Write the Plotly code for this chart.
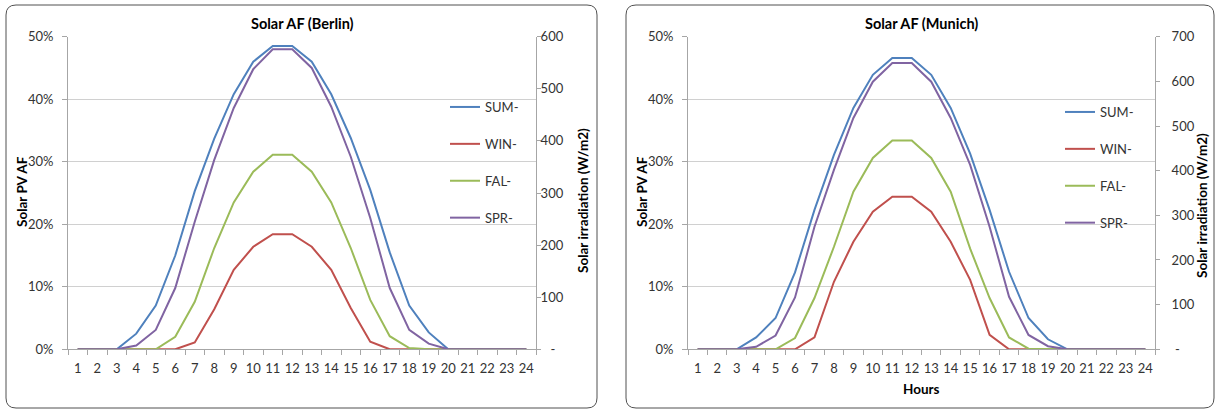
import plotly.graph_objects as go

W, H = 1216, 410

hours = [str(h) for h in range(1, 25)]
series_names = ["SUM-", "WIN-", "FAL-", "SPR-"]
colors = ["#4F81BD", "#C0504D", "#9BBB59", "#8064A2"]

# Berlin (Solar PV AF, %)
sum_berlin = [0, 0, 0, 2.5, 7, 15, 25.3, 33.7, 40.8, 46, 48.5, 48.5, 46, 40.8, 33.8, 25.5, 15.5, 7, 2.7, 0, 0, 0, 0, 0]
win_berlin = [0, 0, 0, 0, 0, 0, 1.1, 6.4, 12.7, 16.4, 18.4, 18.4, 16.4, 12.7, 6.6, 1.2, 0, 0, 0, 0, 0, 0, 0, 0]
fal_berlin = [0, 0, 0, 0, 0, 2, 7.6, 16.2, 23.5, 28.4, 31.1, 31.1, 28.4, 23.5, 16.2, 7.9, 2.1, 0.2, 0, 0, 0, 0, 0, 0]
spr_berlin = [0, 0, 0, 0.6, 3.1, 9.8, 20.4, 30.3, 38.6, 44.8, 48, 48, 45, 38.8, 30.8, 21, 9.8, 3.1, 0.9, 0, 0, 0, 0, 0]

# Munich (Solar PV AF, %)
sum_munich = [0, 0, 0, 1.9, 5, 12.3, 22.3, 31.1, 38.6, 43.9, 46.6, 46.6, 43.9, 38.6, 31.3, 22.3, 12.4, 5, 1.6, 0, 0, 0, 0, 0]
win_munich = [0, 0, 0, 0, 0, 0, 1.9, 10.8, 17.2, 22, 24.4, 24.4, 22, 17.2, 11.1, 2.3, 0, 0, 0, 0, 0, 0, 0, 0]
fal_munich = [0, 0, 0, 0, 0, 1.8, 8.2, 16.4, 25.2, 30.6, 33.4, 33.4, 30.6, 25.2, 16.1, 8.2, 1.9, 0.1, 0, 0, 0, 0, 0, 0]
spr_munich = [0, 0, 0, 0.4, 2.2, 8.3, 19.6, 28.7, 37, 42.8, 45.8, 45.8, 42.8, 37, 29.5, 19.6, 8.4, 2.3, 0.5, 0, 0, 0, 0, 0]

af_ticks = [0, 10, 20, 30, 40, 50]
af_labels = ["0%", "10%", "20%", "30%", "40%", "50%"]
irr_ticks_berlin = [0, 100, 200, 300, 400, 500, 600]
irr_ticks_munich = [0, 100, 200, 300, 400, 500, 600, 700]

FONT = "Lato, Carlito, Calibri, sans-serif"
TXT = "#333333"
GRID = "#D0D0D0"
AXIS = "#A6A6A6"


def px_x(p):
    return p / W


def px_y(p):
    return 1 - p / H


fig = go.Figure()

berlin = [sum_berlin, win_berlin, fal_berlin, spr_berlin]
munich = [sum_munich, win_munich, fal_munich, spr_munich]
for name, col, vals in zip(series_names, colors, berlin):
    fig.add_trace(go.Scatter(x=hours, y=vals, mode="lines", name=name,
                             line=dict(color=col, width=2), xaxis="x", yaxis="y",
                             legend="legend", legendgroup="b" + name))
for name, col, vals in zip(series_names, colors, munich):
    fig.add_trace(go.Scatter(x=hours, y=vals, mode="lines", name=name,
                             line=dict(color=col, width=2), xaxis="x2", yaxis="y3",
                             legend="legend2", legendgroup="m" + name))
# empty traces so the irradiation axes are drawn
fig.add_trace(go.Scatter(x=[], y=[], xaxis="x", yaxis="y2", showlegend=False))
fig.add_trace(go.Scatter(x=[], y=[], xaxis="x2", yaxis="y4", showlegend=False))

bx = [px_x(68), px_x(536)]
mx = [px_x(688), px_x(1155)]
ydom = [px_y(349.3), px_y(36.7)]

xcommon = dict(type="category", tickson="boundaries", ticks="outside", ticklen=5,
               tickcolor=AXIS, showline=True, linecolor=AXIS, linewidth=1,
               showgrid=False, zeroline=False, range=[-0.5, 23.5], tickangle=0,
               tickfont=dict(family=FONT, size=13, color=TXT), fixedrange=True,
               automargin=False, ticklabelstandoff=7)
ycommon = dict(range=[0, 50], tickvals=af_ticks, ticktext=af_labels, ticks="outside",
               ticklen=5, tickcolor=AXIS, showline=True, linecolor=AXIS,
               showgrid=True, gridcolor=GRID, gridwidth=1, zeroline=False,
               tickfont=dict(family=FONT, size=13, color=TXT), ticklabelstandoff=6,
               automargin=False)
y2common = dict(side="right", ticks="outside", ticklen=4,
                tickcolor=AXIS, showline=True, linecolor=AXIS, showgrid=False,
                zeroline=False, tickfont=dict(family=FONT, size=13, color=TXT),
                automargin=False)

fig.update_layout(
    width=W, height=H, margin=dict(l=0, r=0, t=0, b=0, pad=0, autoexpand=False),
    paper_bgcolor="white", plot_bgcolor="rgba(0,0,0,0)",
    showlegend=True,
    xaxis=dict(domain=bx, anchor="y", **xcommon),
    xaxis2=dict(domain=mx, anchor="y3", **xcommon),
    yaxis=dict(domain=ydom, anchor="x", **ycommon),
    yaxis3=dict(domain=ydom, anchor="x2", **ycommon),
    yaxis2=dict(y2common, overlaying="y", anchor="x", range=[0, 600],
                tickvals=irr_ticks_berlin,
                ticktext=["   -"] + [str(v) for v in irr_ticks_berlin[1:]],
                ticklabelstandoff=-3),
    yaxis4=dict(y2common, overlaying="y3", anchor="x2", range=[0, 700],
                tickvals=irr_ticks_munich,
                ticktext=[" -"] + [str(v) for v in irr_ticks_munich[1:]],
                ticklabelstandoff=9),
    legend=dict(x=px_x(445), y=px_y(92), xanchor="left", yanchor="top",
                bgcolor="rgba(0,0,0,0)", tracegroupgap=17,
                font=dict(family=FONT, size=13, color=TXT)),
    legend2=dict(x=px_x(1060), y=px_y(97), xanchor="left", yanchor="top",
                 bgcolor="rgba(0,0,0,0)", tracegroupgap=17,
                 font=dict(family=FONT, size=13, color=TXT)),
)


def rounded_rect(x0, y0, x1, y1, r):
    rx, ry = r / W, r / H
    X0, X1 = px_x(x0), px_x(x1)
    Y0, Y1 = px_y(y0), px_y(y1)  # Y0 top, Y1 bottom
    return (f"M {X0 + rx},{Y0} L {X1 - rx},{Y0} Q {X1},{Y0} {X1},{Y0 - ry} "
            f"L {X1},{Y1 + ry} Q {X1},{Y1} {X1 - rx},{Y1} "
            f"L {X0 + rx},{Y1} Q {X0},{Y1} {X0},{Y1 + ry} "
            f"L {X0},{Y0 - ry} Q {X0},{Y0} {X0 + rx},{Y0} Z")


for box in [(6, 5, 597, 408), (626, 5, 1214, 408)]:
    fig.add_shape(type="path", path=rounded_rect(*box, 10), xref="paper", yref="paper",
                  line=dict(color="#505050", width=1), fillcolor="rgba(0,0,0,0)",
                  layer="below")

ann = []
ann.append(dict(text="<b>Solar AF (Berlin)</b>", x=px_x(302), y=px_y(23)))
ann.append(dict(text="<b>Solar AF (Munich)</b>", x=px_x(921), y=px_y(23)))
for a in ann:
    a.update(xref="paper", yref="paper", xanchor="center", yanchor="middle",
             showarrow=False, font=dict(family=FONT, size=14.5, color="#000000"))
titles = [
    dict(text="<b>Solar PV AF</b>", x=px_x(22), y=px_y(192), textangle=-90),
    dict(text="<b>Solar irradiation (W/m2)</b>", x=px_x(583), y=px_y(201), textangle=-90),
    dict(text="<b>Solar PV AF</b>", x=px_x(642), y=px_y(192), textangle=-90),
    dict(text="<b>Solar irradiation (W/m2)</b>", x=px_x(1202), y=px_y(206), textangle=-90),
    dict(text="<b>Hours</b>", x=px_x(921), y=px_y(389), textangle=0),
]
for t in titles:
    t.update(xref="paper", yref="paper", xanchor="center", yanchor="middle",
             showarrow=False, font=dict(family=FONT, size=13.5, color="#000000"))
fig.update_layout(annotations=ann + titles)

fig.write_html("out.html", config={"displayModeBar": False},
               post_script="document.body.style.margin='0';document.body.style.overflow='hidden';")
